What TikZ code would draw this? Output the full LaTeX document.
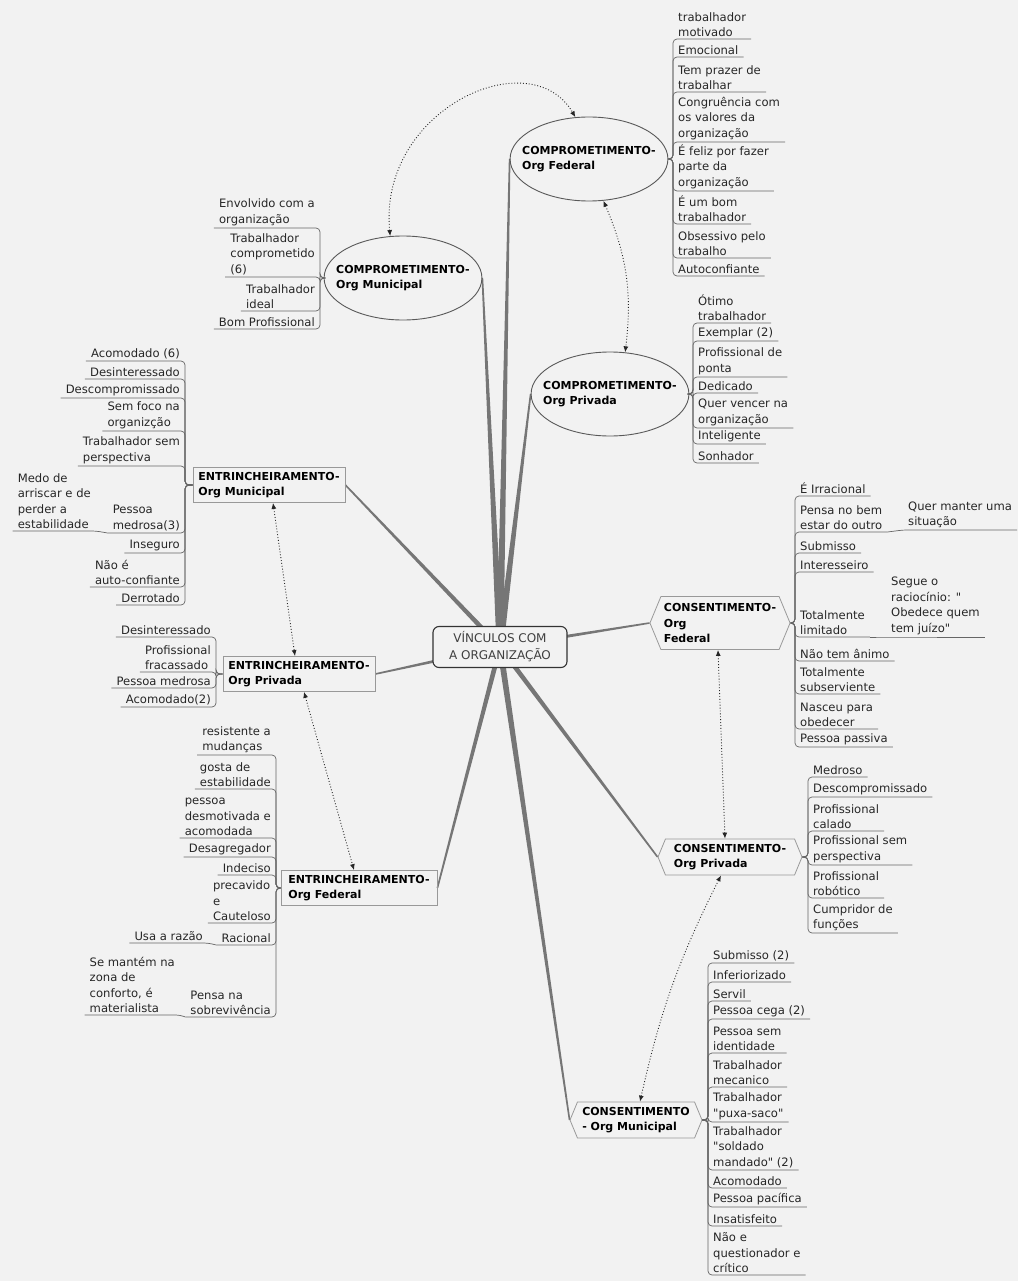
\documentclass[tikz,border=0pt]{standalone}
\usepackage{fontspec}
\setmainfont{DejaVu Sans}
\newfontfamily\quotefont{DejaVu Sans}
\usetikzlibrary{shapes,arrows,arrows.meta,calc,backgrounds}
\definecolor{bgcol}{RGB}{242,242,242}
\definecolor{branchcol}{RGB}{118,118,118}
\newcommand{\qq}{{\quotefont"}}
\newcommand{\branchwedge}[3]{\fill[branchcol] ($(#1)!#3!90:(#2)$) -- ($(#2)!0.8pt!-90:(#1)$) -- ($(#2)!0.8pt!90:(#1)$) -- ($(#1)!#3!-90:(#2)$) -- cycle;}

\begin{document}
\begin{tikzpicture}[x=1pt, y=-1pt, auto]
        \tikzstyle{hub} = [rectangle, draw=black!80, line width=1.1pt, rounded corners=6pt, fill=bgcol, text=black!75, align=center, minimum width=134pt, minimum height=41pt, font=\fontsize{12}{17}\selectfont]
        \tikzstyle{compr} = [ellipse, draw=black!65, line width=0.9pt, align=left, minimum width=155pt, minimum height=84pt, inner xsep=-11pt, inner ysep=0pt, font=\bfseries\fontsize{11}{15.5}\selectfont]
        \tikzstyle{entr} = [rectangle, draw=black!40, line width=0.8pt, align=left, minimum width=152pt, minimum height=35pt, inner sep=4pt, font=\bfseries\fontsize{11}{15.5}\selectfont]
        \tikzstyle{cons} = [signal, signal to=west and east, signal pointer angle=135, draw=black!40, line width=0.8pt, align=left, minimum height=36pt, inner sep=3pt, font=\bfseries\fontsize{11}{15.5}\selectfont]
        \tikzstyle{leaf} = [inner xsep=5pt, inner ysep=2pt, align=left, text=black!85, font=\fontsize{11.6}{15.5}\selectfont]
        \tikzstyle{rleaf} = [leaf, anchor=south west]
        \tikzstyle{lleaf} = [leaf, anchor=south east]
        \tikzstyle{sub} = [draw, black!60, line width=0.7pt, rounded corners=4pt]
        \tikzstyle{rel} = [draw, black!85, dotted, line width=0.9pt, {Latex[length=6pt,width=5pt]}-{Latex[length=6pt,width=5pt]}]

    \useasboundingbox (0,0) rectangle (1018,1281);

    \node [hub] (vinculos) at (500,647) {VÍNCULOS COM\\A ORGANIZAÇÃO};

    \node [compr] (comp_federal) at (589,159) {COMPROMETIMENTO-\\Org Federal};
    \node [compr] (comp_municipal) at (403,278) {COMPROMETIMENTO-\\Org Municipal};
    \node [compr] (comp_privada) at (610,394) {COMPROMETIMENTO-\\Org Privada};
    \node [entr] (entr_municipal) at (269,485) {ENTRINCHEIRAMENTO-\\Org Municipal};
    \node [entr] (entr_privada) at (299,674) {ENTRINCHEIRAMENTO-\\Org Privada};
    \node [entr, minimum width=156pt] (entr_federal) at (359,888) {ENTRINCHEIRAMENTO-\\Org Federal};
    \node [cons, minimum width=140pt, minimum height=53pt] (cons_federal) at (720,623) {CONSENTIMENTO-\\Org\\Federal};
    \node [cons, minimum width=144pt] (cons_privada) at (730,857) {CONSENTIMENTO-\\Org Privada};
    \node [cons, minimum width=132pt] (cons_municipal) at (636,1120) {CONSENTIMENTO\\- Org Municipal};

    % comprometimento federal
    \node [rleaf] (cf_motivado) at (673,39) {trabalhador\\motivado};
    \node [rleaf] (cf_emocional) at (673,57) {Emocional};
    \node [rleaf] (cf_prazer) at (673,92) {Tem prazer de\\trabalhar};
    \node [rleaf] (cf_congruencia) at (673,142) {Congruência com\\os valores da\\organização};
    \node [rleaf] (cf_feliz) at (673,191) {É feliz por fazer\\parte da\\organização};
    \node [rleaf] (cf_bom) at (673,224) {É um bom\\trabalhador};
    \node [rleaf] (cf_obsessivo) at (673,258) {Obsessivo pelo\\trabalho};
    \node [rleaf] (cf_auto) at (673,276) {Autoconfiante};

    % comprometimento municipal
    \node [lleaf] (cm_envolvido) at (320,228) {Envolvido com a\\organização};
    \node [lleaf] (cm_comprometido) at (320,277) {Trabalhador\\comprometido\\(6)};
    \node [lleaf] (cm_ideal) at (320,311) {Trabalhador\\ideal};
    \node [lleaf] (cm_bom) at (320,329) {Bom Profissional};

    % comprometimento privada
    \node [rleaf] (cp_otimo) at (693,323) {Ótimo\\trabalhador};
    \node [rleaf] (cp_exemplar) at (693,341) {Exemplar (2)};
    \node [rleaf] (cp_ponta) at (693,377) {Profissional de\\ponta};
    \node [rleaf] (cp_dedicado) at (693,393) {Dedicado};
    \node [rleaf] (cp_vencer) at (693,428) {Quer vencer na\\organização};
    \node [rleaf] (cp_inteligente) at (693,444) {Inteligente};
    \node [rleaf] (cp_sonhador) at (693,463) {Sonhador};

    % entrincheiramento municipal
    \node [lleaf] (em_acomodado) at (185,361) {Acomodado (6)};
    \node [lleaf] (em_desinteressado) at (185,379) {Desinteressado};
    \node [lleaf] (em_descomp) at (185,398) {Descompromissado};
    \node [lleaf] (em_semfoco) at (185,431) {Sem foco na\\organizção};
    \node [lleaf] (em_perspectiva) at (185,466) {Trabalhador sem\\perspectiva};
    \node [lleaf] (em_medrosa) at (185,533) {Pessoa\\medrosa(3)};
    \node [lleaf] (em_medo) at (96,531) {Medo de\\arriscar e de\\perder a\\estabilidade};
    \node [lleaf] (em_inseguro) at (185,553) {Inseguro};
    \node [lleaf] (em_naoauto) at (185,587) {Não é\\auto-confiante};
    \node [lleaf] (em_derrotado) at (185,605) {Derrotado};

    % entrincheiramento privada
    \node [lleaf] (ep_desinteressado) at (216,637) {Desinteressado};
    \node [lleaf] (ep_fracassado) at (216,672) {Profissional\\fracassado};
    \node [lleaf] (ep_medrosa) at (216,688) {Pessoa medrosa};
    \node [lleaf] (ep_acomodado) at (216,707) {Acomodado(2)};

    % entrincheiramento federal
    \node [lleaf] (ef_resistente) at (276,755) {resistente a\\mudanças};
    \node [lleaf] (ef_estabilidade) at (276,789) {gosta de\\estabilidade};
    \node [lleaf] (ef_desmotivada) at (276,838) {pessoa\\desmotivada e\\acomodada};
    \node [lleaf] (ef_desagregador) at (276,857) {Desagregador};
    \node [lleaf] (ef_indeciso) at (276,875) {Indeciso};
    \node [lleaf] (ef_precavido) at (276,923) {precavido\\e\\Cauteloso};
    \node [lleaf] (ef_racional) at (276,945) {Racional};
    \node [lleaf] (ef_razao) at (208,943) {Usa a razão};
    \node [lleaf] (ef_sobrevivencia) at (276,1017) {Pensa na\\sobrevivência};
    \node [lleaf] (ef_conforto) at (180,1015) {Se mantém na\\zona de\\conforto, é\\materialista};

    % consentimento federal
    \node [rleaf] (nf_irracional) at (795,496) {É Irracional};
    \node [rleaf] (nf_bemestar) at (795,532) {Pensa no bem\\estar do outro};
    \node [rleaf] (nf_situacao) at (903,530) {Quer manter uma\\situação};
    \node [rleaf] (nf_submisso) at (795,553) {Submisso};
    \node [rleaf] (nf_interesseiro) at (795,572) {Interesseiro};
    \node [rleaf] (nf_limitado) at (795,637) {Totalmente\\limitado};
    \node [rleaf] (nf_juizo) at (886,637) {Segue o\\raciocínio: \qq\\Obedece quem\\tem juízo\qq};
    \node [rleaf] (nf_animo) at (795,661) {Não tem ânimo};
    \node [rleaf] (nf_subserviente) at (795,694) {Totalmente\\subserviente};
    \node [rleaf] (nf_obedecer) at (795,729) {Nasceu para\\obedecer};
    \node [rleaf] (nf_passiva) at (795,747) {Pessoa passiva};

    % consentimento privada
    \node [rleaf] (np_medroso) at (808,777) {Medroso};
    \node [rleaf] (np_descomp) at (808,797) {Descompromissado};
    \node [rleaf] (np_calado) at (808,831) {Profissional\\calado};
    \node [rleaf] (np_perspectiva) at (808,865) {Profissional sem\\perspectiva};
    \node [rleaf] (np_robotico) at (808,898) {Profissional\\robótico};
    \node [rleaf] (np_funcoes) at (808,933) {Cumpridor de\\funções};

    % consentimento municipal
    \node [rleaf] (nm_submisso) at (708,963) {Submisso (2)};
    \node [rleaf] (nm_inferiorizado) at (708,982) {Inferiorizado};
    \node [rleaf] (nm_servil) at (708,1001) {Servil};
    \node [rleaf] (nm_cega) at (708,1019) {Pessoa cega (2)};
    \node [rleaf] (nm_identidade) at (708,1053) {Pessoa sem\\identidade};
    \node [rleaf] (nm_mecanico) at (708,1087) {Trabalhador\\mecanico};
    \node [rleaf] (nm_puxasaco) at (708,1122) {Trabalhador\\\qq puxa-saco\qq};
    \node [rleaf] (nm_soldado) at (708,1170) {Trabalhador\\\qq soldado\\mandado\qq{} (2)};
    \node [rleaf] (nm_acomodado) at (708,1188) {Acomodado};
    \node [rleaf] (nm_pacifica) at (708,1207) {Pessoa pacífica};
    \node [rleaf] (nm_insatisfeito) at (708,1226) {Insatisfeito};
    \node [rleaf] (nm_critico) at (708,1275) {Não e\\questionador e\\crítico};

    \begin{pgfonlayer}{background}
        \fill [bgcol] (0,0) rectangle (1018,1281);
        \branchwedge{vinculos.center}{comp_federal.west}{3.5pt}
        \branchwedge{vinculos.center}{comp_municipal.east}{3.5pt}
        \branchwedge{vinculos.center}{comp_privada.west}{3.5pt}
        \branchwedge{vinculos.center}{entr_municipal.east}{2.5pt}
        \branchwedge{vinculos.center}{entr_privada.east}{2pt}
        \branchwedge{vinculos.center}{entr_federal.east}{2.5pt}
        \branchwedge{vinculos.center}{cons_federal.west}{2pt}
        \branchwedge{vinculos.center}{cons_privada.west}{2.5pt}
        \branchwedge{vinculos.center}{cons_municipal.west}{3pt}
    \end{pgfonlayer}

    \path [sub] (comp_federal.east) -| (cf_motivado.south west) -- (cf_motivado.south east);
    \path [sub] (comp_federal.east) -| (cf_emocional.south west) -- (cf_emocional.south east);
    \path [sub] (comp_federal.east) -| (cf_prazer.south west) -- (cf_prazer.south east);
    \path [sub] (comp_federal.east) -| (cf_congruencia.south west) -- (cf_congruencia.south east);
    \path [sub] (comp_federal.east) -| (cf_feliz.south west) -- (cf_feliz.south east);
    \path [sub] (comp_federal.east) -| (cf_bom.south west) -- (cf_bom.south east);
    \path [sub] (comp_federal.east) -| (cf_obsessivo.south west) -- (cf_obsessivo.south east);
    \path [sub] (comp_federal.east) -| (cf_auto.south west) -- (cf_auto.south east);

    \path [sub] (comp_municipal.west) -| (cm_envolvido.south east) -- (cm_envolvido.south west);
    \path [sub] (comp_municipal.west) -| (cm_comprometido.south east) -- (cm_comprometido.south west);
    \path [sub] (comp_municipal.west) -| (cm_ideal.south east) -- (cm_ideal.south west);
    \path [sub] (comp_municipal.west) -| (cm_bom.south east) -- (cm_bom.south west);

    \path [sub] (comp_privada.east) -| (cp_otimo.south west) -- (cp_otimo.south east);
    \path [sub] (comp_privada.east) -| (cp_exemplar.south west) -- (cp_exemplar.south east);
    \path [sub] (comp_privada.east) -| (cp_ponta.south west) -- (cp_ponta.south east);
    \path [sub] (comp_privada.east) -| (cp_dedicado.south west) -- (cp_dedicado.south east);
    \path [sub] (comp_privada.east) -| (cp_vencer.south west) -- (cp_vencer.south east);
    \path [sub] (comp_privada.east) -| (cp_inteligente.south west) -- (cp_inteligente.south east);
    \path [sub] (comp_privada.east) -| (cp_sonhador.south west) -- (cp_sonhador.south east);

    \path [sub] (entr_municipal.west) -| (em_acomodado.south east) -- (em_acomodado.south west);
    \path [sub] (entr_municipal.west) -| (em_desinteressado.south east) -- (em_desinteressado.south west);
    \path [sub] (entr_municipal.west) -| (em_descomp.south east) -- (em_descomp.south west);
    \path [sub] (entr_municipal.west) -| (em_semfoco.south east) -- (em_semfoco.south west);
    \path [sub] (entr_municipal.west) -| (em_perspectiva.south east) -- (em_perspectiva.south west);
    \path [sub] (entr_municipal.west) -| (em_medrosa.south east) -- (em_medrosa.south west);
    \path [sub] (entr_municipal.west) -| (em_inseguro.south east) -- (em_inseguro.south west);
    \path [sub] (entr_municipal.west) -| (em_naoauto.south east) -- (em_naoauto.south west);
    \path [sub] (entr_municipal.west) -| (em_derrotado.south east) -- (em_derrotado.south west);
    \path [sub] (em_medrosa.south west) -- (em_medo.south east) -- (em_medo.south west);

    \path [sub] (entr_privada.west) -| (ep_desinteressado.south east) -- (ep_desinteressado.south west);
    \path [sub] (entr_privada.west) -| (ep_fracassado.south east) -- (ep_fracassado.south west);
    \path [sub] (entr_privada.west) -| (ep_medrosa.south east) -- (ep_medrosa.south west);
    \path [sub] (entr_privada.west) -| (ep_acomodado.south east) -- (ep_acomodado.south west);

    \path [sub] (entr_federal.west) -| (ef_resistente.south east) -- (ef_resistente.south west);
    \path [sub] (entr_federal.west) -| (ef_estabilidade.south east) -- (ef_estabilidade.south west);
    \path [sub] (entr_federal.west) -| (ef_desmotivada.south east) -- (ef_desmotivada.south west);
    \path [sub] (entr_federal.west) -| (ef_desagregador.south east) -- (ef_desagregador.south west);
    \path [sub] (entr_federal.west) -| (ef_indeciso.south east) -- (ef_indeciso.south west);
    \path [sub] (entr_federal.west) -| (ef_precavido.south east) -- (ef_precavido.south west);
    \path [sub] (entr_federal.west) -| (ef_racional.south east) -- (ef_racional.south west);
    \path [sub] (entr_federal.west) -| (ef_sobrevivencia.south east) -- (ef_sobrevivencia.south west);
    \path [sub] (ef_racional.south west) -- (ef_razao.south east) -- (ef_razao.south west);
    \path [sub] (ef_sobrevivencia.south west) -- (ef_conforto.south east) -- (ef_conforto.south west);

    \path [sub] (cons_federal.east) -| (nf_irracional.south west) -- (nf_irracional.south east);
    \path [sub] (cons_federal.east) -| (nf_bemestar.south west) -- (nf_bemestar.south east);
    \path [sub] (cons_federal.east) -| (nf_submisso.south west) -- (nf_submisso.south east);
    \path [sub] (cons_federal.east) -| (nf_interesseiro.south west) -- (nf_interesseiro.south east);
    \path [sub] (cons_federal.east) -| (nf_limitado.south west) -- (nf_limitado.south east);
    \path [sub] (cons_federal.east) -| (nf_animo.south west) -- (nf_animo.south east);
    \path [sub] (cons_federal.east) -| (nf_subserviente.south west) -- (nf_subserviente.south east);
    \path [sub] (cons_federal.east) -| (nf_obedecer.south west) -- (nf_obedecer.south east);
    \path [sub] (cons_federal.east) -| (nf_passiva.south west) -- (nf_passiva.south east);
    \path [sub] (nf_bemestar.south east) -- (nf_situacao.south west) -- (nf_situacao.south east);
    \path [sub] (nf_limitado.south east) -- (nf_juizo.south west) -- (nf_juizo.south east);

    \path [sub] (cons_privada.east) -| (np_medroso.south west) -- (np_medroso.south east);
    \path [sub] (cons_privada.east) -| (np_descomp.south west) -- (np_descomp.south east);
    \path [sub] (cons_privada.east) -| (np_calado.south west) -- (np_calado.south east);
    \path [sub] (cons_privada.east) -| (np_perspectiva.south west) -- (np_perspectiva.south east);
    \path [sub] (cons_privada.east) -| (np_robotico.south west) -- (np_robotico.south east);
    \path [sub] (cons_privada.east) -| (np_funcoes.south west) -- (np_funcoes.south east);

    \path [sub] (cons_municipal.east) -| (nm_submisso.south west) -- (nm_submisso.south east);
    \path [sub] (cons_municipal.east) -| (nm_inferiorizado.south west) -- (nm_inferiorizado.south east);
    \path [sub] (cons_municipal.east) -| (nm_servil.south west) -- (nm_servil.south east);
    \path [sub] (cons_municipal.east) -| (nm_cega.south west) -- (nm_cega.south east);
    \path [sub] (cons_municipal.east) -| (nm_identidade.south west) -- (nm_identidade.south east);
    \path [sub] (cons_municipal.east) -| (nm_mecanico.south west) -- (nm_mecanico.south east);
    \path [sub] (cons_municipal.east) -| (nm_puxasaco.south west) -- (nm_puxasaco.south east);
    \path [sub] (cons_municipal.east) -| (nm_soldado.south west) -- (nm_soldado.south east);
    \path [sub] (cons_municipal.east) -| (nm_acomodado.south west) -- (nm_acomodado.south east);
    \path [sub] (cons_municipal.east) -| (nm_pacifica.south west) -- (nm_pacifica.south east);
    \path [sub] (cons_municipal.east) -| (nm_insatisfeito.south west) -- (nm_insatisfeito.south east);
    \path [sub] (cons_municipal.east) -| (nm_critico.south west) -- (nm_critico.south east);

    % relations
    \path [rel] (comp_municipal.107) .. controls (378,110) and (530,40) .. (comp_federal.108);
    \path [rel] (comp_federal.-71) to [bend left=15] (comp_privada.70);
    \path [rel] ([xshift=4pt]entr_municipal.south) -- ([xshift=-4pt]entr_privada.north);
    \path [rel] ([xshift=5pt]entr_privada.south) -- ([xshift=-5pt]entr_federal.north);
    \path [rel] ([xshift=-2pt]cons_federal.south) -- ([xshift=-5pt]cons_privada.north);
    \path [rel] ([xshift=-9pt]cons_privada.south) to [bend right=7] ([xshift=4pt]cons_municipal.north);

    \end{tikzpicture}
\end{document}
